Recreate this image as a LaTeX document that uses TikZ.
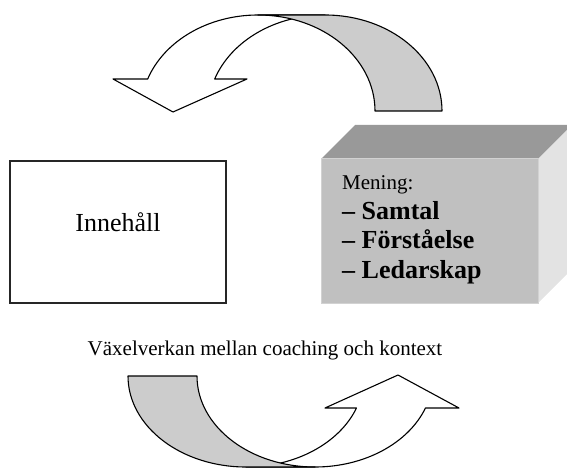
\documentclass[tikz,border=0pt]{standalone}
\usepackage{fontspec}
\setmainfont{Liberation Serif}
\definecolor{bandgrey}{HTML}{CCCCCC}
\definecolor{frontgrey}{HTML}{C0C0C0}
\definecolor{topgrey}{HTML}{999999}
\definecolor{sidegrey}{HTML}{E3E3E3}
\definecolor{edgegrey}{HTML}{D2D2D2}
\begin{document}
\begin{tikzpicture}[x=1pt,y=-1pt,
  band/.style={draw=black,line width=1.1pt,line join=round},
  frontband/.style={band,fill=white},
  backband/.style={band,fill=bandgrey},
  plainbox/.style={draw=black!85,line width=1.4pt,fill=white,minimum width=216pt,minimum height=142pt,inner sep=0pt},
  regtext/.style={font=\fontsize{21}{25}\selectfont,inner sep=0pt},
  boldtext/.style={font=\fontsize{26}{30}\selectfont\bfseries,inner sep=0pt}]
\useasboundingbox (0,0) rectangle (567,470);
\begin{scope}
\clip (0,0) rectangle (567,470);

% upper curved arrow: front (white) band ending in a downward head
\draw[frontband] (258,15) arc[start angle=270,end angle=199.47,x radius=117,y radius=96]
  -- (113,79) -- (173,112) -- (247,79)
  -- (214.7,79) arc[start angle=199.47,end angle=270,x radius=117,y radius=96] -- cycle;
% upper curved arrow: shaded back band
\draw[backband] (258,15) -- (325,15) arc[start angle=270,end angle=360,x radius=117,y radius=96]
  -- (375,111) arc[start angle=360,end angle=270,x radius=117,y radius=96] -- cycle;

% lower curved arrow: front (white) band ending in an upward head
\draw[frontband] (315,467) arc[start angle=90,end angle=20.59,x radius=118,y radius=91]
  -- (459,408) -- (398,375) -- (325,408)
  -- (356.5,408) arc[start angle=20.59,end angle=90,x radius=118,y radius=91] -- cycle;
% lower curved arrow: shaded back band
\draw[backband] (128,376) arc[start angle=180,end angle=90,x radius=118,y radius=91]
  -- (315,467) arc[start angle=90,end angle=180,x radius=118,y radius=91] -- cycle;

% content box
\node[plainbox] (inh) at (118,232) {};
\node[regtext,font=\fontsize{26}{30}\selectfont,anchor=base] (inhtxt) at (118,232) {Innehåll};

% meaning block drawn as a shaded cuboid
\fill[topgrey] (321,159) -- (355,125) -- (572,125) -- (538,159) -- cycle;
\fill[sidegrey] (538,159) -- (572,125) -- (572,269) -- (538,303) -- cycle;
\draw[fill=frontgrey,draw=edgegrey,line width=1pt] (321,159) rectangle (538,303);
\node[regtext,anchor=base west] (mening) at (342,190) {Mening:};
\node[boldtext,anchor=base west] (samtal) at (342,220) {– Samtal};
\node[boldtext,anchor=base west] (forst) at (342,248) {– Förståelse};
\node[boldtext,anchor=base west] (ledar) at (342,278) {– Ledarskap};

% caption between the two arrows
\node[regtext,anchor=base] (caption) at (265,355) {Växelverkan mellan coaching och kontext};
\end{scope}
\end{tikzpicture}
\end{document}
